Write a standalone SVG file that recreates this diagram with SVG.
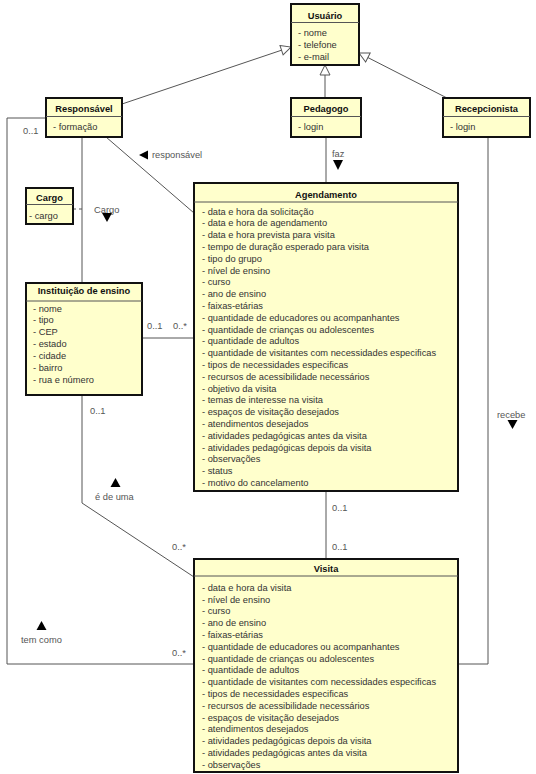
<svg xmlns="http://www.w3.org/2000/svg" width="536" height="774" viewBox="0 0 536 774">
<style>
.box{fill:#FFFFCC;stroke:#111;stroke-width:2}
.sep{stroke:#555;stroke-width:1}
.h{font-family:"Liberation Sans",Arial,sans-serif;font-size:9.3px;font-weight:bold;fill:#111;text-anchor:middle}
.a{font-family:"Liberation Sans",Arial,sans-serif;font-size:9.3px;fill:#333}
.l{font-family:"Liberation Sans",Arial,sans-serif;font-size:9.3px;fill:#555}
.c{fill:none;stroke:#555;stroke-width:1}
.tri{fill:#000}
</style>
<defs>
<marker id="gen" viewBox="0 0 12 12" refX="11" refY="6" markerWidth="12" markerHeight="12" markerUnits="userSpaceOnUse" orient="auto">
<path d="M1,1 L11,6 L1,11 Z" fill="#fff" stroke="#555" stroke-width="1"/>
</marker>
</defs>
<g id="connectors">
<line class="c" x1="122" y1="104" x2="291" y2="47" marker-end="url(#gen)"/>
<line class="c" x1="325" y1="98" x2="325" y2="65" marker-end="url(#gen)"/>
<line class="c" x1="447" y1="98" x2="359" y2="53" marker-end="url(#gen)"/>
<line class="c" x1="326" y1="137" x2="326" y2="183"/>
<text class="l" x="332" y="157">faz</text>
<path class="tri" d="M333,160 L343,160 L338,170 Z"/>
<line class="c" x1="106" y1="137" x2="194" y2="213"/>
<path class="tri" d="M139,155 L148,150.5 L148,159.5 Z"/>
<text class="l" x="152" y="158">responsável</text>
<line class="c" x1="82" y1="137" x2="82" y2="283"/>
<line class="c" x1="73" y1="209" x2="82" y2="209" stroke-dasharray="3,3"/>
<text class="l" x="94" y="213">Cargo</text>
<path class="tri" d="M102,213 L112,213 L107,222 Z"/>
<line class="c" x1="142" y1="338" x2="194" y2="338"/>
<text class="l" x="147" y="329">0..1</text>
<text class="l" x="173" y="329">0..*</text>
<polyline class="c" points="82,395 82,503 194,577"/>
<text class="l" x="90" y="414">0..1</text>
<text class="l" x="172" y="550">0..*</text>
<path class="tri" d="M110.5,487 L120.5,487 L115.5,478 Z"/>
<text class="l" x="95" y="500">é de uma</text>
<polyline class="c" points="46,118 7,118 7,664 194,664"/>
<text class="l" x="23" y="134">0..1</text>
<text class="l" x="172" y="656">0..*</text>
<path class="tri" d="M36.5,630 L46.5,630 L41.5,621 Z"/>
<text class="l" x="21" y="643">tem como</text>
<line class="c" x1="326" y1="491" x2="326" y2="559"/>
<text class="l" x="332" y="511">0..1</text>
<text class="l" x="332" y="550">0..1</text>
<polyline class="c" points="488,137 488,664 458,664"/>
<text class="l" x="497" y="418">recebe</text>
<path class="tri" d="M507.5,420 L517.5,420 L512.5,429 Z"/>
</g>
<g id="usuario">
<rect class="box" x="291" y="4" width="68" height="61"/>
<line class="sep" x1="291" y1="22.5" x2="359" y2="22.5"/>
<text class="h" x="325" y="18.5">Usuário</text>
<text class="a" x="298" y="36">- nome</text>
<text class="a" x="298" y="47.8">- telefone</text>
<text class="a" x="298" y="59.6">- e-mail</text>
</g>
<g id="responsavel">
<rect class="box" x="46" y="98" width="76" height="39"/>
<line class="sep" x1="46" y1="116.5" x2="122" y2="116.5"/>
<text class="h" x="84" y="112">Responsável</text>
<text class="a" x="53" y="130">- formação</text>
</g>
<g id="pedagogo">
<rect class="box" x="291" y="98" width="70" height="39"/>
<line class="sep" x1="291" y1="116.5" x2="361" y2="116.5"/>
<text class="h" x="326" y="112">Pedagogo</text>
<text class="a" x="298" y="130">- login</text>
</g>
<g id="recepcionista">
<rect class="box" x="443" y="98" width="87" height="39"/>
<line class="sep" x1="443" y1="116.5" x2="530" y2="116.5"/>
<text class="h" x="486.5" y="112">Recepcionista</text>
<text class="a" x="450" y="130">- login</text>
</g>
<g id="cargo">
<rect class="box" x="26" y="188" width="47" height="36"/>
<line class="sep" x1="26" y1="204.5" x2="73" y2="204.5"/>
<text class="h" x="49.5" y="201">Cargo</text>
<text class="a" x="29" y="219">- cargo</text>
</g>
<g id="instituicao">
<rect class="box" x="26" y="283" width="116" height="112"/>
<line class="sep" x1="26" y1="301" x2="142" y2="301"/>
<text class="h" x="84" y="294">Instituição de ensino</text>
<text class="a" x="33" y="311.5">- nome</text>
<text class="a" x="33" y="323.4">- tipo</text>
<text class="a" x="33" y="335.3">- CEP</text>
<text class="a" x="33" y="347.2">- estado</text>
<text class="a" x="33" y="359.1">- cidade</text>
<text class="a" x="33" y="371">- bairro</text>
<text class="a" x="33" y="382.9">- rua e número</text>
</g>
<g id="agendamento">
<rect class="box" x="194" y="183" width="264" height="308"/>
<line class="sep" x1="194" y1="202" x2="458" y2="202"/>
<text class="h" x="326" y="197.5">Agendamento</text>
<text class="a" x="202" y="214.5">- data e hora da solicitação</text>
<text class="a" x="202" y="226.3">- data e hora de agendamento</text>
<text class="a" x="202" y="238.1">- data e hora prevista para visita</text>
<text class="a" x="202" y="249.9">- tempo de duração esperado para visita</text>
<text class="a" x="202" y="261.7">- tipo do grupo</text>
<text class="a" x="202" y="273.5">- nível de ensino</text>
<text class="a" x="202" y="285.3">- curso</text>
<text class="a" x="202" y="297.1">- ano de ensino</text>
<text class="a" x="202" y="308.9">- faixas-etárias</text>
<text class="a" x="202" y="320.7">- quantidade de educadores ou acompanhantes</text>
<text class="a" x="202" y="332.5">- quantidade de crianças ou adolescentes</text>
<text class="a" x="202" y="344.3">- quantidade de adultos</text>
<text class="a" x="202" y="356.1">- quantidade de visitantes com necessidades especificas</text>
<text class="a" x="202" y="367.9">- tipos de necessidades especificas</text>
<text class="a" x="202" y="379.7">- recursos de acessibilidade necessários</text>
<text class="a" x="202" y="391.5">- objetivo da visita</text>
<text class="a" x="202" y="403.3">- temas de interesse na visita</text>
<text class="a" x="202" y="415.1">- espaços de visitação desejados</text>
<text class="a" x="202" y="426.9">- atendimentos desejados</text>
<text class="a" x="202" y="438.7">- atividades pedagógicas antes da visita</text>
<text class="a" x="202" y="450.5">- atividades pedagógicas depois da visita</text>
<text class="a" x="202" y="462.3">- observações</text>
<text class="a" x="202" y="474.1">- status</text>
<text class="a" x="202" y="485.9">- motivo do cancelamento</text>
</g>
<g id="visita">
<rect class="box" x="194" y="559" width="264" height="213"/>
<line class="sep" x1="194" y1="576" x2="458" y2="576"/>
<text class="h" x="326" y="572">Visita</text>
<text class="a" x="202" y="590.7">- data e hora da visita</text>
<text class="a" x="202" y="602.5">- nível de ensino</text>
<text class="a" x="202" y="614.3">- curso</text>
<text class="a" x="202" y="626.1">- ano de ensino</text>
<text class="a" x="202" y="637.9">- faixas-etárias</text>
<text class="a" x="202" y="649.7">- quantidade de educadores ou acompanhantes</text>
<text class="a" x="202" y="661.5">- quantidade de crianças ou adolescentes</text>
<text class="a" x="202" y="673.3">- quantidade de adultos</text>
<text class="a" x="202" y="685.1">- quantidade de visitantes com necessidades especificas</text>
<text class="a" x="202" y="696.9">- tipos de necessidades especificas</text>
<text class="a" x="202" y="708.7">- recursos de acessibilidade necessários</text>
<text class="a" x="202" y="720.5">- espaços de visitação desejados</text>
<text class="a" x="202" y="732.3">- atendimentos desejados</text>
<text class="a" x="202" y="744.1">- atividades pedagógicas depois da visita</text>
<text class="a" x="202" y="755.9">- atividades pedagógicas antes da visita</text>
<text class="a" x="202" y="767.7">- observações</text>
</g>
</svg>
